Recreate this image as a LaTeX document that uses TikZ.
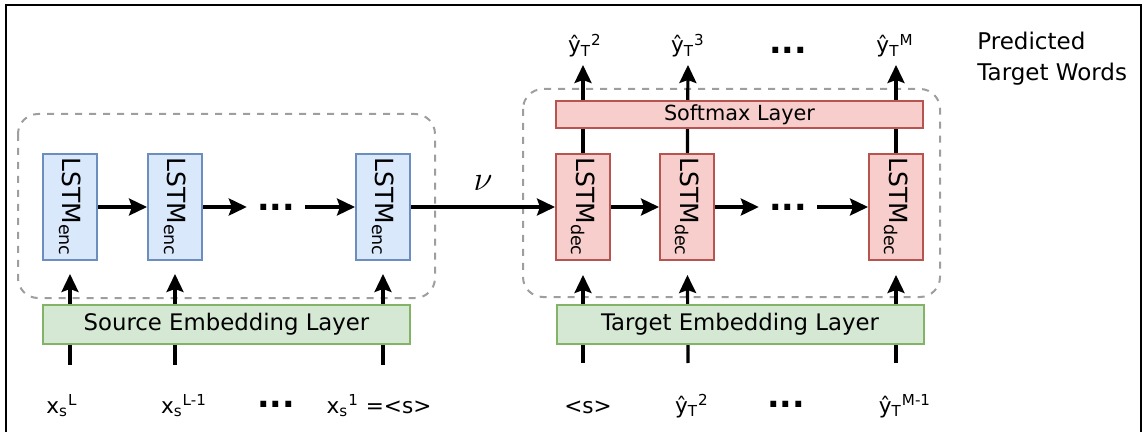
\documentclass[tikz,border=0pt]{standalone}
\usepackage{fontspec}
\setmainfont{DejaVu Sans}
\usepackage{tikz}
\usetikzlibrary{arrows.meta, positioning}

\definecolor{encfill}{HTML}{DAE8FC}
\definecolor{encline}{HTML}{6C8EBF}
\definecolor{decfill}{HTML}{F8CECC}
\definecolor{decline}{HTML}{B85450}
\definecolor{embfill}{HTML}{D5E8D4}
\definecolor{embline}{HTML}{82B366}
\definecolor{grpgray}{HTML}{9E9E9E}

\newcommand{\lstmlabel}[1]{\rotatebox{-90}{LSTM\textsubscript{#1}}}

\begin{document}
\begin{tikzpicture}[x=0.5pt, y=-0.5pt,
  lstmbox/.style={line width=1pt, minimum width=27pt, minimum height=53pt, inner sep=0pt, font=\fontsize{12.5}{13}\selectfont},
  encbox/.style={lstmbox, draw=encline, fill=encfill},
  decbox/.style={lstmbox, draw=decline, fill=decfill},
  layerbox/.style={line width=1pt, minimum width=183.5pt, inner sep=0pt},
  embbox/.style={layerbox, draw=embline, fill=embfill, minimum height=19.5pt, font=\fontsize{11.4}{12}\selectfont},
  smbox/.style={layerbox, draw=decline, fill=decfill, minimum height=13.5pt, font=\fontsize{10.4}{11}\selectfont},
  grpbox/.style={draw=grpgray, dash pattern=on 3.5pt off 3.5pt, line width=1pt, rounded corners=10pt},
  arr/.style={line width=1.6pt, -{Stealth[length=9pt, width=8.5pt, inset=1.5pt]}},
  word/.style={anchor=base, inner sep=0pt, font=\fontsize{10.8}{12}\selectfont},
  ellip/.style={font=\fontsize{16.5}{16.5}\selectfont\bfseries, text height=3.4pt, text depth=0pt, inner sep=5pt}
]
  \useasboundingbox (0,0) rectangle (1143,432);

  % Frame
  \draw[line width=1.2pt] (6,432) -- (6,5) -- (1141,5) -- (1141,432);

  % Dashed groups
  \draw[grpbox] (18,114) rectangle (435,298);
  \draw[grpbox] (523,89) rectangle (940,297);

  % Encoder cells
  \foreach \i/\x in {1/70, 2/175, 3/383} {
    \node[encbox] (enc\i) at (\x,207) {\lstmlabel{enc}};
  }
  \node[ellip] (edots) at (276,207) {...};

  % Decoder cells
  \foreach \i/\x in {1/583, 2/687, 3/896} {
    \node[decbox] (dec\i) at (\x,207) {\lstmlabel{dec}};
  }
  \node[ellip] (ddots) at (788,207) {...};

  % Recurrent arrows
  \draw[arr] (enc1) -- (enc2);
  \draw[arr] (enc2) -- (edots);
  \draw[arr] (edots) -- (enc3);
  \draw[arr] (enc3) -- node[above=4pt, font=\fontsize{16}{16}\selectfont] (nu) {$\nu$} (dec1);
  \draw[arr] (dec1) -- (dec2);
  \draw[arr] (dec2) -- (ddots);
  \draw[arr] (ddots) -- (dec3);

  % Inputs into the cells
  \foreach \i/\x in {1/70, 2/175, 3/383} {
    \coordinate (ein\i) at (\x,365);
    \draw[arr, shorten >=6.5pt] (ein\i) -- (enc\i);
  }
  \foreach \i/\x in {1/583, 2/688, 3/896} {
    \coordinate (din\i) at (\x,363);
    \draw[arr, shorten >=7pt] (din\i) -- (dec\i);
    \coordinate (dout\i) at (\x,65);
    \draw[arr] (dec\i) -- (dout\i);
  }

  % Layers
  \node[embbox] (srcemb) at (226.5,324.5) {Source Embedding Layer};
  \node[embbox] (tgtemb) at (740,324.5) {Target Embedding Layer};
  \node[smbox] (softmax) at (739.5,114.5) {Softmax Layer};

  % Source words
  \node[word] (xL) at (62,413) {x\textsubscript{s}\textsuperscript{L}};
  \node[word] (xL1) at (184,413) {x\textsubscript{s}\textsuperscript{L-1}};
  \node[ellip] (xdots) at (276,404) {...};
  \node[word] (x1) at (379,413) {x\textsubscript{s}\textsuperscript{1} =<s>};

  % Target words fed in
  \node[word] (ys) at (588,413) {<s>};
  \node[word] (yin2) at (692,413) {ŷ\textsubscript{T}\textsuperscript{2}};
  \node[ellip] (ydots) at (786,404) {...};
  \node[word] (yinM) at (905,413) {ŷ\textsubscript{T}\textsuperscript{M-1}};

  % Predicted words
  \node[word] (yout2) at (585,53) {ŷ\textsubscript{T}\textsuperscript{2}};
  \node[word] (yout3) at (688,53) {ŷ\textsubscript{T}\textsuperscript{3}};
  \node[ellip] (odots) at (788,50.5) {...};
  \node[word] (youtM) at (895,53) {ŷ\textsubscript{T}\textsuperscript{M}};
  \node[anchor=north west, align=left, inner sep=0pt, font=\fontsize{11.5}{15.5}\selectfont] (pred) at (977,32) {Predicted\\Target Words};

\end{tikzpicture}
\end{document}
